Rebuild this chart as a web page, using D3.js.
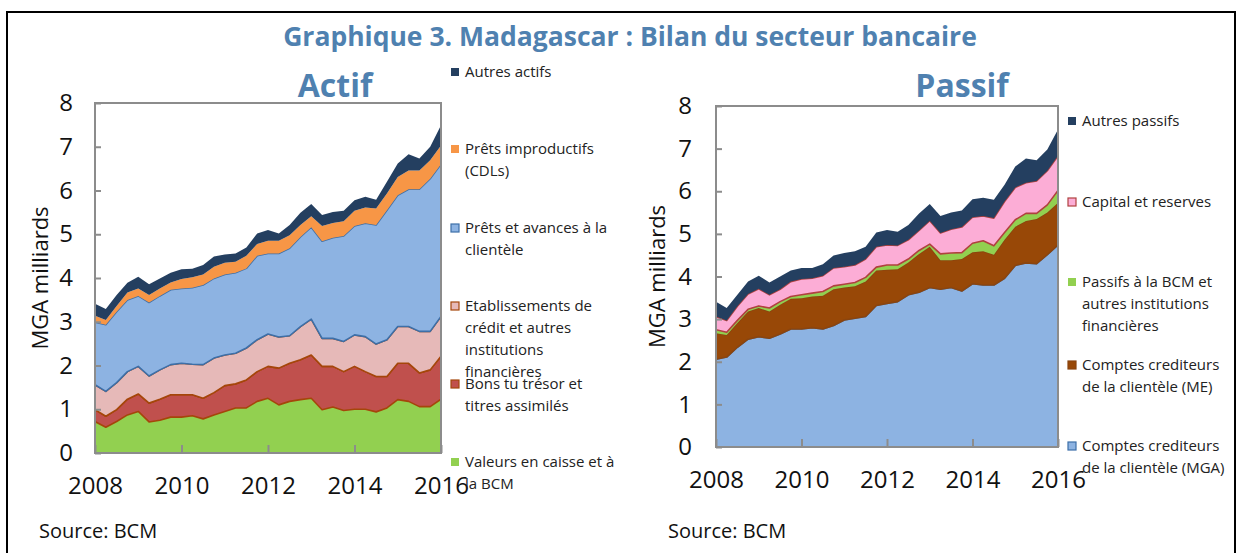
<!DOCTYPE html>
<html>
<head>
<meta charset="utf-8">
<script src="https://cdn.jsdelivr.net/npm/d3@7"></script>
<style>
  body { margin: 0; background: #fff; }
  text { font-family: "Open Sans", "Noto Sans", sans-serif; fill: #111; }
</style>
</head>
<body>
<div id="chart"></div>
<script>
// quarterly data, 2008Q1 .. 2016Q1 (33 points), MGA milliards
const yearLabels = ["2008", "2010", "2012", "2014", "2016"];
const yearTickIdx = [0, 8, 16, 24, 32];
const yTicks = [0, 1, 2, 3, 4, 5, 6, 7, 8];

// Actif
const valeursCaisse = [0.72,0.59,0.72,0.87,0.95,0.71,0.75,0.82,0.82,0.85,0.78,0.87,0.95,1.03,1.03,1.18,1.25,1.10,1.18,1.22,1.25,0.99,1.05,0.97,1.00,1.00,0.94,1.03,1.22,1.18,1.06,1.06,1.23];
const bonsTresor = [0.27,0.25,0.27,0.36,0.40,0.43,0.48,0.51,0.51,0.48,0.47,0.51,0.59,0.55,0.64,0.68,0.73,0.84,0.87,0.91,0.99,0.99,0.93,0.89,0.98,0.86,0.81,0.72,0.83,0.87,0.77,0.84,0.98];
const etablissements = [0.57,0.57,0.62,0.63,0.63,0.62,0.67,0.69,0.72,0.70,0.77,0.79,0.70,0.70,0.73,0.73,0.74,0.71,0.63,0.76,0.82,0.64,0.64,0.69,0.72,0.80,0.74,0.84,0.84,0.84,0.95,0.88,0.91];
const pretsAvances = [1.43,1.52,1.62,1.64,1.61,1.68,1.69,1.71,1.71,1.75,1.82,1.82,1.84,1.84,1.82,1.92,1.84,1.91,2.00,2.05,2.10,2.22,2.30,2.41,2.49,2.59,2.72,2.96,3.00,3.14,3.25,3.49,3.48];
const pretsImproductifs = [0.15,0.11,0.13,0.17,0.17,0.17,0.17,0.17,0.22,0.24,0.24,0.27,0.27,0.25,0.29,0.27,0.29,0.29,0.30,0.27,0.25,0.35,0.34,0.34,0.35,0.36,0.38,0.38,0.42,0.43,0.43,0.42,0.43];
const autresActifs = [0.27,0.25,0.25,0.22,0.27,0.25,0.23,0.22,0.22,0.19,0.22,0.23,0.19,0.19,0.19,0.24,0.25,0.17,0.23,0.28,0.28,0.25,0.25,0.24,0.24,0.25,0.20,0.27,0.31,0.37,0.27,0.31,0.46];

// Passif
const comptesMGA = [2.06,2.11,2.34,2.53,2.59,2.55,2.65,2.77,2.77,2.80,2.77,2.85,2.98,3.02,3.06,3.32,3.37,3.41,3.57,3.63,3.74,3.70,3.74,3.66,3.83,3.80,3.80,3.96,4.26,4.32,4.30,4.51,4.74];
const comptesME = [0.61,0.52,0.57,0.65,0.67,0.63,0.69,0.71,0.72,0.73,0.78,0.85,0.76,0.75,0.82,0.82,0.79,0.76,0.76,0.90,0.96,0.68,0.64,0.75,0.74,0.79,0.71,0.90,0.91,0.98,1.05,0.99,0.99];
const passifsBCM = [0.08,0.06,0.06,0.05,0.05,0.08,0.07,0.05,0.08,0.08,0.10,0.08,0.08,0.09,0.10,0.08,0.11,0.10,0.08,0.08,0.06,0.15,0.17,0.15,0.21,0.25,0.21,0.17,0.16,0.18,0.13,0.18,0.29];
const capitalReserves = [0.31,0.28,0.33,0.36,0.40,0.31,0.29,0.35,0.37,0.35,0.37,0.42,0.41,0.41,0.43,0.48,0.47,0.46,0.45,0.47,0.55,0.49,0.56,0.60,0.61,0.58,0.65,0.73,0.76,0.72,0.76,0.80,0.81];
const autresPassifs = [0.35,0.29,0.27,0.29,0.31,0.29,0.30,0.26,0.26,0.24,0.27,0.29,0.32,0.32,0.29,0.33,0.35,0.32,0.35,0.40,0.39,0.40,0.39,0.39,0.42,0.43,0.43,0.39,0.49,0.57,0.49,0.50,0.62];

const actifSeries = [
  { key: "valeurs", values: valeursCaisse, fill: "#92d050", stroke: null,
    label: ["Valeurs en caisse et à", "la BCM"], ly: 462 },
  { key: "bons", values: bonsTresor, fill: "#c0504d", stroke: "#a5460a",
    label: ["Bons tu trésor et", "titres assimilés"], ly: 384 },
  { key: "etab", values: etablissements, fill: "#e6b9b8", stroke: "#a5460a",
    label: ["Etablissements de", "crédit et autres", "institutions", "financières"], ly: 306 },
  { key: "prets", values: pretsAvances, fill: "#8db3e2", stroke: "#3d6fa8",
    label: ["Prêts et avances à la", "clientèle"], ly: 228 },
  { key: "improd", values: pretsImproductifs, fill: "#f79646", stroke: null,
    label: ["Prêts improductifs", "(CDLs)"], ly: 149 },
  { key: "autres", values: autresActifs, fill: "#243f60", stroke: null,
    label: ["Autres actifs"], ly: 72 }
];

const passifSeries = [
  { key: "mga", values: comptesMGA, fill: "#8db3e2", stroke: "#3d6fa8",
    label: ["Comptes crediteurs", "de la clientèle (MGA)"], ly: 446 },
  { key: "me", values: comptesME, fill: "#984807", stroke: "#8a4510",
    label: ["Comptes crediteurs", "de la clientèle (ME)"], ly: 365 },
  { key: "bcm", values: passifsBCM, fill: "#92d050", stroke: null,
    label: ["Passifs à la BCM et", "autres institutions", "financières"], ly: 282 },
  { key: "capital", values: capitalReserves, fill: "#fcadd6", stroke: "#b0413e",
    label: ["Capital et reserves"], ly: 202 },
  { key: "autres", values: autresPassifs, fill: "#243f60", stroke: null,
    label: ["Autres passifs"], ly: 121 }
];

const W = 1241, H = 553;
const svg = d3.select("#chart").append("svg")
  .attr("width", W).attr("height", H);

// outer frame
svg.append("rect")
  .attr("x", 7).attr("y", 12).attr("width", 1228).attr("height", 560)
  .attr("fill", "none").attr("stroke", "#000").attr("stroke-width", 2);

svg.append("text")
  .attr("x", 630).attr("y", 46)
  .attr("text-anchor", "middle")
  .style("font-size", "26.5px").style("font-weight", "bold").style("fill", "#4f81b0")
  .text("Graphique 3. Madagascar : Bilan du secteur bancaire");

function drawPanel(opts) {
  const { series, box, title, titleX, legendX, yTitleX, sourceX, id } = opts;

  const x = d3.scaleLinear().domain([0, 32]).range([box.x0, box.x1]);
  const y = d3.scaleLinear().domain([0, 8]).range([box.y1, box.y0]);

  const rows = series[0].values.map((_, i) => {
    const r = { q: i };
    series.forEach(s => { r[s.key] = s.values[i]; });
    return r;
  });
  const stacked = d3.stack().keys(series.map(s => s.key))(rows);

  const area = d3.area()
    .x(d => x(d.data.q))
    .y0(d => y(d[0]))
    .y1(d => y(d[1]));

  svg.append("clipPath").attr("id", "clip-" + id)
    .append("rect")
    .attr("x", box.x0).attr("y", box.y0)
    .attr("width", box.x1 - box.x0).attr("height", box.y1 - box.y0);

  const g = svg.append("g").attr("clip-path", `url(#clip-${id})`);
  stacked.forEach((layer, k) => {
    const s = series[k];
    g.append("path")
      .datum(layer)
      .attr("d", area)
      .attr("fill", s.fill)
      .attr("stroke", s.stroke || "none")
      .attr("stroke-width", 1.6)
      .attr("stroke-linejoin", "round");
  });

  // plot frame
  svg.append("rect")
    .attr("x", box.x0).attr("y", box.y0)
    .attr("width", box.x1 - box.x0).attr("height", box.y1 - box.y0)
    .attr("fill", "none").attr("stroke", "#8c8c8c").attr("stroke-width", 2);

  const yAxis = svg.append("g")
    .attr("transform", `translate(${box.x0},0)`)
    .call(d3.axisLeft(y).tickValues(yTicks).tickSize(-6).tickPadding(opts.yPad));
  yAxis.select(".domain").remove();
  yAxis.selectAll("line").attr("stroke", "#8c8c8c").attr("stroke-width", 2);
  yAxis.selectAll("text").style("font-size", "24px").attr("fill", "#111")
    .attr("font-family", null);

  const xAxis = svg.append("g")
    .attr("transform", `translate(0,${box.y1})`)
    .call(d3.axisBottom(x).tickValues(yearTickIdx)
      .tickFormat((d, i) => yearLabels[i]).tickSize(-8).tickPadding(24));
  xAxis.select(".domain").remove();
  xAxis.selectAll("line").attr("stroke", "#8c8c8c").attr("stroke-width", 2);
  xAxis.selectAll("text").style("font-size", "24px").attr("fill", "#111")
    .attr("font-family", null);

  svg.append("text")
    .attr("transform", `translate(${yTitleX},${(box.y0 + box.y1) / 2}) rotate(-90)`)
    .attr("text-anchor", "middle")
    .style("font-size", "22px")
    .text("MGA milliards");

  svg.append("text")
    .attr("x", titleX).attr("y", 97)
    .attr("text-anchor", "middle")
    .style("font-size", "32px").style("font-weight", "bold").style("fill", "#4f81b0")
    .text(title);

  // legend
  series.forEach(s => {
    svg.append("rect")
      .attr("x", legendX).attr("y", s.ly - 4)
      .attr("width", 8).attr("height", 8)
      .attr("fill", s.fill)
      .attr("stroke", s.stroke || "none")
      .attr("stroke-width", s.stroke ? 1.2 : 0);
    s.label.forEach((line, j) => {
      svg.append("text")
        .attr("x", legendX + 14).attr("y", s.ly + 5 + j * 22)
        .style("font-size", "15px")
        .style("fill", "#222")
        .text(line);
    });
  });

  svg.append("text")
    .attr("x", sourceX).attr("y", 538)
    .style("font-size", "20px")
    .text("Source: BCM");
}

drawPanel({
  id: "actif", series: actifSeries, title: "Actif", titleX: 335,
  box: { x0: 95, x1: 441, y0: 103, y1: 453 },
  legendX: 451, yTitleX: 48, yPad: 22, sourceX: 39
});

drawPanel({
  id: "passif", series: passifSeries, title: "Passif", titleX: 962,
  box: { x0: 716, x1: 1058, y0: 106, y1: 447 },
  legendX: 1068, yTitleX: 665, yPad: 24, sourceX: 668
});
</script>
</body>
</html>
